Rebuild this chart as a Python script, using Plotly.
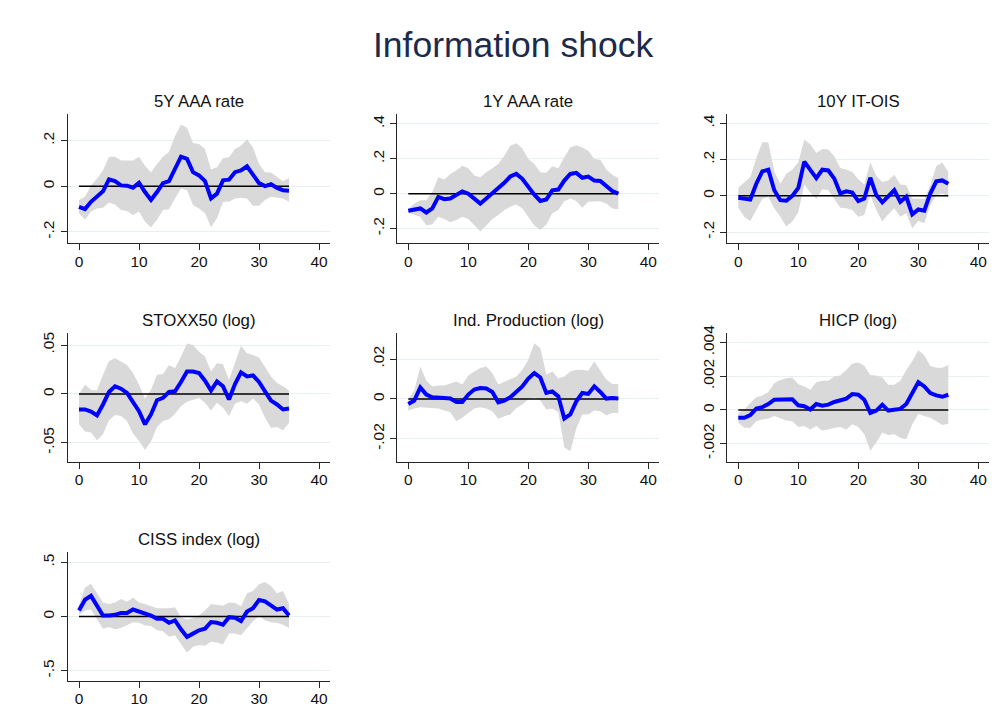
import plotly.graph_objects as go

# Horizon (months after the shock)
horizon = list(range(36))

# --- 5Y AAA rate ---
aaa5_irf = [-0.09, -0.10, -0.068, -0.043, -0.022, 0.03, 0.023, 0.004, 0.003, -0.006, 0.016, -0.025,
            -0.06, -0.025, 0.014, 0.023, 0.077, 0.13, 0.12, 0.062, 0.048, 0.023, -0.053, -0.032,
            0.026, 0.029, 0.062, 0.07, 0.088, 0.048, 0.014, 0.001, 0.009, -0.007, -0.017, -0.019]
aaa5_hi = [-0.06, -0.046, 0.004, 0.033, 0.07, 0.13, 0.13, 0.113, 0.113, 0.113, 0.13, 0.09,
           0.06, 0.098, 0.13, 0.15, 0.22, 0.27, 0.257, 0.19, 0.185, 0.163, 0.074, 0.084,
           0.123, 0.127, 0.163, 0.178, 0.206, 0.17, 0.098, 0.062, 0.06, 0.04, 0.022, 0.036]
aaa5_lo = [-0.118, -0.147, -0.11, -0.097, -0.094, -0.071, -0.08, -0.104, -0.108, -0.126, -0.11, -0.155,
           -0.179, -0.147, -0.104, -0.1, -0.053, -0.01, -0.017, -0.082, -0.097, -0.118, -0.179, -0.14,
           -0.068, -0.068, -0.053, -0.05, -0.053, -0.085, -0.085, -0.06, -0.046, -0.05, -0.053, -0.068]

# --- 1Y AAA rate ---
aaa1_irf = [-0.098, -0.089, -0.085, -0.108, -0.085, -0.019, -0.032, -0.028, -0.006, 0.013, 0.0, -0.032,
            -0.057, -0.028, 0.0, 0.028, 0.062, 0.098, 0.113, 0.085, 0.038, -0.006, -0.042, -0.034,
            0.019, 0.023, 0.075, 0.113, 0.119, 0.091, 0.098, 0.075, 0.072, 0.043, 0.015, 0.0]
aaa1_hi = [-0.089, -0.057, -0.038, -0.038, 0.009, 0.094, 0.081, 0.113, 0.132, 0.16, 0.145, 0.104,
           0.094, 0.123, 0.145, 0.17, 0.217, 0.274, 0.289, 0.258, 0.198, 0.17, 0.123, 0.119,
           0.157, 0.145, 0.208, 0.264, 0.277, 0.264, 0.245, 0.198, 0.194, 0.138, 0.108, 0.089]
aaa1_lo = [-0.108, -0.123, -0.132, -0.183, -0.175, -0.132, -0.145, -0.164, -0.151, -0.132, -0.145, -0.179,
           -0.217, -0.183, -0.145, -0.123, -0.094, -0.075, -0.062, -0.085, -0.132, -0.183, -0.208, -0.179,
           -0.113, -0.094, -0.043, -0.028, -0.042, -0.081, -0.047, -0.043, -0.043, -0.057, -0.085, -0.089]

# --- 10Y IT-OIS ---
itois_irf = [-0.011, -0.018, -0.02, 0.067, 0.135, 0.144, 0.031, -0.024, -0.027, 0.0, 0.044, 0.189,
             0.145, 0.098, 0.144, 0.14, 0.095, 0.013, 0.025, 0.018, -0.029, -0.015, 0.1, 0.004,
             -0.036, -0.005, 0.031, -0.033, -0.005, -0.102, -0.075, -0.082, 0.013, 0.08, 0.085, 0.067]
itois_hi = [0.044, 0.076, 0.104, 0.207, 0.295, 0.295, 0.135, 0.067, 0.122, 0.145, 0.185, 0.309,
            0.285, 0.236, 0.258, 0.255, 0.218, 0.153, 0.145, 0.131, 0.091, 0.062, 0.185, 0.109,
            0.076, 0.085, 0.116, 0.062, 0.058, -0.015, -0.018, -0.018, 0.058, 0.164, 0.182, 0.131]
itois_lo = [-0.065, -0.115, -0.138, -0.078, -0.018, -0.005, -0.069, -0.115, -0.169, -0.142, -0.091, 0.062,
            0.018, -0.018, 0.036, 0.031, -0.018, -0.065, -0.069, -0.078, -0.115, -0.105, 0.007, -0.078,
            -0.142, -0.102, -0.069, -0.115, -0.096, -0.178, -0.138, -0.151, -0.051, 0.004, 0.013, -0.005]

# --- STOXX50 (log) ---
stoxx_irf = [-0.0159, -0.0159, -0.018, -0.022, -0.0108, 0.002, 0.0078, 0.0054, 0.001, -0.009, -0.0176, -0.0311,
             -0.021, -0.0064, -0.004, 0.002, 0.0027, 0.0122, 0.023, 0.023, 0.0213, 0.0135, 0.0034, 0.0128,
             0.0078, -0.0057, 0.0101, 0.022, 0.0179, 0.0189, 0.0122, 0.0027, -0.0068, -0.0108, -0.0159, -0.0149]
stoxx_hi = [0.0, 0.0095, 0.0044, 0.0034, 0.0196, 0.0338, 0.0365, 0.0331, 0.0297, 0.0213, 0.0095, -0.0047,
            0.0044, 0.0196, 0.0203, 0.0297, 0.0264, 0.0382, 0.0517, 0.05, 0.0432, 0.0382, 0.023, 0.0314,
            0.0304, 0.0145, 0.0324, 0.0493, 0.0416, 0.0399, 0.0372, 0.028, 0.0179, 0.0111, 0.0078, 0.0034]
stoxx_lo = [-0.0311, -0.0385, -0.0395, -0.0473, -0.0412, -0.027, -0.0216, -0.0226, -0.0277, -0.0405, -0.048, -0.0574,
            -0.0486, -0.0338, -0.0277, -0.026, -0.0203, -0.0125, -0.0081, -0.0057, -0.0041, -0.0091, -0.0169, -0.0091,
            -0.0142, -0.0226, -0.0101, -0.0074, -0.0101, -0.0047, -0.0108, -0.0243, -0.0345, -0.0338, -0.0372, -0.0294]

# --- Ind. Production (log) ---
ip_irf = [-0.0025, -0.0008, 0.0058, 0.0022, 0.0008, 0.0008, 0.0005, 0.0002, -0.0015, -0.0015, 0.0022, 0.0047,
          0.0055, 0.0052, 0.0035, -0.0017, -0.0008, 0.0008, 0.0035, 0.0063, 0.0102, 0.013, 0.0108, 0.003,
          0.0038, 0.0013, -0.0098, -0.0078, -0.0012, 0.003, 0.0025, 0.0063, 0.0035, 0.0002, 0.0005, 0.0002]
ip_hi = [0.0, 0.0042, 0.0163, 0.0092, 0.0063, 0.0068, 0.0068, 0.008, 0.0088, 0.0072, 0.0118, 0.0138,
         0.0155, 0.0163, 0.013, 0.0072, 0.0085, 0.0097, 0.0113, 0.0147, 0.0197, 0.028, 0.0255, 0.0122,
         0.0138, 0.0102, 0.0113, 0.0138, 0.0147, 0.0147, 0.0142, 0.0188, 0.0142, 0.0097, 0.0075, 0.0075]
ip_lo = [-0.0058, -0.0048, -0.0042, -0.0045, -0.0045, -0.0048, -0.0058, -0.0065, -0.0112, -0.0095, -0.007, -0.0048,
         -0.0042, -0.0048, -0.0062, -0.01, -0.0087, -0.0078, -0.0045, -0.0028, -0.0003, 0.0008, -0.0008, -0.0053,
         -0.0048, -0.0065, -0.0242, -0.0262, -0.0148, -0.0078, -0.0078, -0.0058, -0.0062, -0.0082, -0.007, -0.007]

# --- HICP (log) ---
hicp_irf = [-0.00047, -0.00047, -0.00031, 0.00008, 0.00016, 0.00035, 0.00061, 0.00063, 0.00063, 0.00063, 0.00027, 0.00022,
            0.00002, 0.00035, 0.00025, 0.00031, 0.00047, 0.00055, 0.00067, 0.00094, 0.0009, 0.00061, -0.00018, -0.00004,
            0.00031, -0.00004, 0.00002, 0.00006, 0.00035, 0.00106, 0.00165, 0.00139, 0.001, 0.00086, 0.00078, 0.0009]
hicp_hi = [-0.00018, 0.00002, 0.00041, 0.00075, 0.00086, 0.00106, 0.00159, 0.00178, 0.00188, 0.00192, 0.00153, 0.00139,
           0.0012, 0.00165, 0.00173, 0.00173, 0.00198, 0.00204, 0.00237, 0.00276, 0.00282, 0.00263, 0.00208, 0.00204,
           0.00192, 0.00149, 0.00149, 0.00173, 0.00237, 0.0029, 0.00355, 0.00325, 0.00261, 0.00251, 0.00251, 0.00267]
hicp_lo = [-0.00076, -0.00106, -0.00106, -0.00067, -0.00057, -0.00051, -0.00037, -0.00051, -0.00063, -0.00067, -0.00102, -0.00096,
           -0.00116, -0.00096, -0.00122, -0.00116, -0.00106, -0.00102, -0.00116, -0.00086, -0.00102, -0.00145, -0.00243, -0.00194,
           -0.00135, -0.00149, -0.00145, -0.00165, -0.00175, -0.00086, -0.00024, -0.00037, -0.00047, -0.00067, -0.0009, -0.00082]

# --- CISS index (log) ---
ciss_irf = [0.055, 0.155, 0.19, 0.1, 0.009, 0.009, 0.015, 0.033, 0.033, 0.064, 0.045, 0.024,
            0.009, -0.021, -0.021, -0.058, -0.036, -0.118, -0.188, -0.158, -0.127, -0.112, -0.052, -0.058,
            -0.076, -0.006, -0.012, -0.042, 0.045, 0.076, 0.152, 0.139, 0.106, 0.064, 0.076, 0.009]
ciss_hi = [0.106, 0.267, 0.303, 0.221, 0.13, 0.115, 0.13, 0.161, 0.136, 0.176, 0.13, 0.115,
           0.094, 0.076, 0.076, 0.076, 0.085, -0.006, -0.027, -0.015, 0.009, 0.055, 0.115, 0.106,
           0.1, 0.13, 0.124, 0.094, 0.215, 0.236, 0.297, 0.318, 0.282, 0.215, 0.236, 0.115]
ciss_lo = [0.015, 0.055, 0.064, -0.027, -0.112, -0.097, -0.118, -0.106, -0.082, -0.052, -0.058, -0.082,
           -0.088, -0.127, -0.136, -0.188, -0.173, -0.248, -0.333, -0.279, -0.264, -0.27, -0.233, -0.239,
           -0.258, -0.158, -0.158, -0.173, -0.106, -0.045, 0.009, -0.036, -0.052, -0.058, -0.076, -0.106]

titles = ["5Y AAA rate", "1Y AAA rate", "10Y IT-OIS",
          "STOXX50 (log)", "Ind. Production (log)", "HICP (log)",
          "CISS index (log)"]
irfs = [aaa5_irf, aaa1_irf, itois_irf, stoxx_irf, ip_irf, hicp_irf, ciss_irf]
uppers = [aaa5_hi, aaa1_hi, itois_hi, stoxx_hi, ip_hi, hicp_hi, ciss_hi]
lowers = [aaa5_lo, aaa1_lo, itois_lo, stoxx_lo, ip_lo, hicp_lo, ciss_lo]

ytick_vals = [[-0.2, 0, 0.2], [-0.2, 0, 0.2, 0.4], [-0.2, 0, 0.2, 0.4],
              [-0.05, 0, 0.05], [-0.02, 0, 0.02], [-0.002, 0, 0.002, 0.004],
              [-0.5, 0, 0.5]]
ytick_text = [["-.2", "0", ".2"], ["-.2", "0", ".2", ".4"], ["-.2", "0", ".2", ".4"],
              ["-.05", "0", ".05"], ["-.02", "0", ".02"], ["-.002", "0", ".002", ".004"],
              ["-.5", "0", ".5"]]
y_ranges = [[-0.25, 0.319], [-0.285, 0.459], [-0.262, 0.454],
            [-0.0694, 0.0622], [-0.0315, 0.033], [-0.00308, 0.00456],
            [-0.593, 0.593]]

W, H = 1007, 723
col_px = [(67.6, 329.8), (396.9, 659.1), (726.9, 989.1)]
row_px = [(106.7, 238.0), (328.8, 458.8), (550.3, 680.3)]

FONT = "Liberation Sans, Arial, sans-serif"
BAND = "#d9d9d9"
LINE = "#0000ff"
GRID = "#e6eff1"
AXIS = "#262626"

fig = go.Figure()
annotations = []

for i in range(7):
    r, c = divmod(i, 3)
    n = i + 1
    xa = "x" if n == 1 else f"x{n}"
    ya = "y" if n == 1 else f"y{n}"

    fig.add_trace(go.Scatter(x=horizon, y=lowers[i], mode="lines", line=dict(width=0),
                             hoverinfo="skip", showlegend=False, xaxis=xa, yaxis=ya))
    fig.add_trace(go.Scatter(x=horizon, y=uppers[i], mode="lines", line=dict(width=0),
                             fill="tonexty", fillcolor=BAND, hoverinfo="skip",
                             showlegend=False, xaxis=xa, yaxis=ya))
    fig.add_trace(go.Scatter(x=horizon, y=[0] * len(horizon), mode="lines",
                             line=dict(color="black", width=1.5), showlegend=False,
                             xaxis=xa, yaxis=ya))
    fig.add_trace(go.Scatter(x=horizon, y=irfs[i], mode="lines",
                             line=dict(color=LINE, width=4), showlegend=False,
                             xaxis=xa, yaxis=ya))

    x0, x1 = col_px[c]
    y0, y1 = row_px[r]
    xdom = [x0 / W, x1 / W]
    ydom = [1 - y1 / H, 1 - y0 / H]

    fig.layout[f"xaxis{'' if n == 1 else n}"] = dict(
        domain=xdom, anchor=ya, range=[-1.9, 41.8],
        tickvals=[0, 10, 20, 30, 40], ticks="outside", ticklen=6, tickwidth=1,
        tickcolor=AXIS, showline=True, linecolor=AXIS, linewidth=1,
        showgrid=False, zeroline=False, ticklabelstandoff=-2,
        tickfont=dict(family=FONT, size=15.5, color="#111111"),
    )
    fig.layout[f"yaxis{'' if n == 1 else n}"] = dict(
        domain=ydom, anchor=xa, range=y_ranges[i],
        tickvals=ytick_vals[i], ticktext=ytick_text[i], tickangle=-90,
        ticks="outside", ticklen=6, tickwidth=1, tickcolor=AXIS,
        showline=True, linecolor=AXIS, linewidth=1,
        showgrid=True, gridcolor=GRID, gridwidth=1, zeroline=False,
        tickfont=dict(family=FONT, size=15.5, color="#111111"),
    )
    annotations.append(dict(
        text=titles[i], x=(xdom[0] + xdom[1]) / 2, y=ydom[1] + 12.5 / H,
        xref="paper", yref="paper", xanchor="center", yanchor="middle",
        showarrow=False, font=dict(family=FONT, size=16.8, color="#111111"),
    ))

annotations.append(dict(
    text="Information shock", x=512.5 / W, y=1 - 37 / H, xref="paper", yref="paper",
    xanchor="center", yanchor="middle", showarrow=False,
    font=dict(family=FONT, size=35.5, color="#1c2a4c"),
))

fig.update_layout(
    width=W, height=H, margin=dict(l=0, r=0, t=0, b=0),
    paper_bgcolor="white", plot_bgcolor="white",
    annotations=annotations, showlegend=False,
)

fig.write_html("out.html")
